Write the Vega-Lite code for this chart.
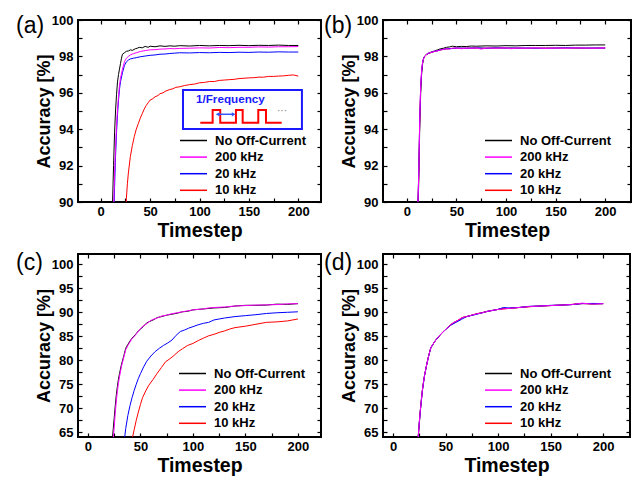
{
"$schema": "https://vega.github.io/schema/vega-lite/v6.json",
"padding": {"left": 15, "top": 13, "right": 5, "bottom": 5},
"config": {
  "font": "Liberation Sans",
  "view": {"stroke": "black", "strokeWidth": 2},
  "axis": {"grid": false, "domain": false, "tickColor": "black", "tickWidth": 1.2, "tickSize": -4, "labelColor": "black", "labelFontSize": 13, "labelFontWeight": "bold", "labelPadding": 9, "titleColor": "black", "titleFontWeight": "bold", "labelFlush": false, "labelOverlap": false},
  "axisX": {"titleFontSize": 19.5, "titlePadding": 3, "labelPadding": 7},
  "axisY": {"titleFontSize": 18, "titlePadding": -2},
  "title": {"fontSize": 23, "fontWeight": "normal", "anchor": "start", "frame": "group", "color": "black", "baseline": "alphabetic"},
  "legend": {"orient": "none", "title": null, "symbolType": "M-3,0H3", "symbolSize": 81, "symbolStrokeWidth": 1.5, "labelFontSize": 13, "labelFontWeight": "bold", "labelColor": "black", "labelOffset": 15, "rowPadding": 2.6}
},
"datasets": {
"curves": [
{"p":"a","s":"N","t":8,"y":86},{"p":"a","s":"N","t":10,"y":88},{"p":"a","s":"N","t":11,"y":89},{"p":"a","s":"N","t":12,"y":90},{"p":"a","s":"N","t":13,"y":92},{"p":"a","s":"N","t":14,"y":93.8},{"p":"a","s":"N","t":15,"y":95},{"p":"a","s":"N","t":16,"y":95.9},{"p":"a","s":"N","t":17,"y":96.6},{"p":"a","s":"N","t":18,"y":97},{"p":"a","s":"N","t":19,"y":97.3},{"p":"a","s":"N","t":20,"y":97.6},{"p":"a","s":"N","t":21,"y":97.9},{"p":"a","s":"N","t":22,"y":98.12},{"p":"a","s":"N","t":24,"y":98.2},{"p":"a","s":"N","t":26,"y":98.28},{"p":"a","s":"N","t":28,"y":98.3},{"p":"a","s":"N","t":30,"y":98.36},{"p":"a","s":"N","t":32,"y":98.33},{"p":"a","s":"N","t":35,"y":98.42},{"p":"a","s":"N","t":37,"y":98.45},{"p":"a","s":"N","t":39,"y":98.5},{"p":"a","s":"N","t":42,"y":98.47},{"p":"a","s":"N","t":45,"y":98.55},{"p":"a","s":"N","t":48,"y":98.5},{"p":"a","s":"N","t":50,"y":98.56},{"p":"a","s":"N","t":55,"y":98.53},{"p":"a","s":"N","t":60,"y":98.58},{"p":"a","s":"N","t":65,"y":98.55},{"p":"a","s":"N","t":70,"y":98.58},{"p":"a","s":"N","t":75,"y":98.56},{"p":"a","s":"N","t":80,"y":98.59},{"p":"a","s":"N","t":90,"y":98.57},{"p":"a","s":"N","t":100,"y":98.6},{"p":"a","s":"N","t":110,"y":98.58},{"p":"a","s":"N","t":120,"y":98.6},{"p":"a","s":"N","t":130,"y":98.59},{"p":"a","s":"N","t":140,"y":98.61},{"p":"a","s":"N","t":150,"y":98.59},{"p":"a","s":"N","t":160,"y":98.61},{"p":"a","s":"N","t":170,"y":98.6},{"p":"a","s":"N","t":180,"y":98.62},{"p":"a","s":"N","t":190,"y":98.6},{"p":"a","s":"N","t":200,"y":98.6},
{"p":"a","s":"10","t":22,"y":86},{"p":"a","s":"10","t":24,"y":88},{"p":"a","s":"10","t":26,"y":90.2},{"p":"a","s":"10","t":27,"y":91},{"p":"a","s":"10","t":28,"y":91.6},{"p":"a","s":"10","t":30,"y":92.5},{"p":"a","s":"10","t":32,"y":93.1},{"p":"a","s":"10","t":34,"y":93.6},{"p":"a","s":"10","t":36,"y":94},{"p":"a","s":"10","t":38,"y":94.3},{"p":"a","s":"10","t":40,"y":94.6},{"p":"a","s":"10","t":42,"y":94.85},{"p":"a","s":"10","t":44,"y":95.1},{"p":"a","s":"10","t":46,"y":95.3},{"p":"a","s":"10","t":48,"y":95.45},{"p":"a","s":"10","t":50,"y":95.6},{"p":"a","s":"10","t":52,"y":95.65},{"p":"a","s":"10","t":55,"y":95.78},{"p":"a","s":"10","t":58,"y":95.85},{"p":"a","s":"10","t":60,"y":95.95},{"p":"a","s":"10","t":63,"y":96},{"p":"a","s":"10","t":66,"y":96.1},{"p":"a","s":"10","t":70,"y":96.18},{"p":"a","s":"10","t":73,"y":96.22},{"p":"a","s":"10","t":76,"y":96.3},{"p":"a","s":"10","t":80,"y":96.33},{"p":"a","s":"10","t":85,"y":96.4},{"p":"a","s":"10","t":90,"y":96.45},{"p":"a","s":"10","t":95,"y":96.48},{"p":"a","s":"10","t":100,"y":96.55},{"p":"a","s":"10","t":105,"y":96.57},{"p":"a","s":"10","t":110,"y":96.62},{"p":"a","s":"10","t":115,"y":96.62},{"p":"a","s":"10","t":120,"y":96.68},{"p":"a","s":"10","t":125,"y":96.7},{"p":"a","s":"10","t":130,"y":96.72},{"p":"a","s":"10","t":135,"y":96.74},{"p":"a","s":"10","t":140,"y":96.78},{"p":"a","s":"10","t":145,"y":96.8},{"p":"a","s":"10","t":150,"y":96.82},{"p":"a","s":"10","t":155,"y":96.83},{"p":"a","s":"10","t":160,"y":96.86},{"p":"a","s":"10","t":165,"y":96.86},{"p":"a","s":"10","t":170,"y":96.9},{"p":"a","s":"10","t":175,"y":96.9},{"p":"a","s":"10","t":180,"y":96.92},{"p":"a","s":"10","t":185,"y":96.93},{"p":"a","s":"10","t":190,"y":96.96},{"p":"a","s":"10","t":195,"y":96.98},{"p":"a","s":"10","t":200,"y":96.92},
{"p":"a","s":"20","t":10,"y":86},{"p":"a","s":"20","t":13,"y":88.5},{"p":"a","s":"20","t":14,"y":90.8},{"p":"a","s":"20","t":15,"y":92.5},{"p":"a","s":"20","t":16,"y":93.8},{"p":"a","s":"20","t":17,"y":94.8},{"p":"a","s":"20","t":18,"y":95.6},{"p":"a","s":"20","t":19,"y":96.2},{"p":"a","s":"20","t":20,"y":96.6},{"p":"a","s":"20","t":22,"y":97.1},{"p":"a","s":"20","t":24,"y":97.5},{"p":"a","s":"20","t":26,"y":97.7},{"p":"a","s":"20","t":28,"y":97.8},{"p":"a","s":"20","t":30,"y":97.86},{"p":"a","s":"20","t":33,"y":97.9},{"p":"a","s":"20","t":36,"y":97.93},{"p":"a","s":"20","t":40,"y":97.98},{"p":"a","s":"20","t":45,"y":98.02},{"p":"a","s":"20","t":50,"y":98.06},{"p":"a","s":"20","t":55,"y":98.08},{"p":"a","s":"20","t":60,"y":98.12},{"p":"a","s":"20","t":65,"y":98.13},{"p":"a","s":"20","t":70,"y":98.16},{"p":"a","s":"20","t":75,"y":98.18},{"p":"a","s":"20","t":80,"y":98.2},{"p":"a","s":"20","t":90,"y":98.19},{"p":"a","s":"20","t":100,"y":98.21},{"p":"a","s":"20","t":110,"y":98.2},{"p":"a","s":"20","t":120,"y":98.22},{"p":"a","s":"20","t":130,"y":98.21},{"p":"a","s":"20","t":140,"y":98.23},{"p":"a","s":"20","t":150,"y":98.22},{"p":"a","s":"20","t":160,"y":98.24},{"p":"a","s":"20","t":170,"y":98.23},{"p":"a","s":"20","t":180,"y":98.25},{"p":"a","s":"20","t":190,"y":98.24},{"p":"a","s":"20","t":200,"y":98.24},
{"p":"a","s":"200","t":10,"y":86},{"p":"a","s":"200","t":13,"y":89.5},{"p":"a","s":"200","t":14,"y":91.5},{"p":"a","s":"200","t":15,"y":93},{"p":"a","s":"200","t":16,"y":94.2},{"p":"a","s":"200","t":17,"y":95.1},{"p":"a","s":"200","t":18,"y":95.8},{"p":"a","s":"200","t":19,"y":96.4},{"p":"a","s":"200","t":20,"y":96.8},{"p":"a","s":"200","t":22,"y":97.3},{"p":"a","s":"200","t":24,"y":97.7},{"p":"a","s":"200","t":26,"y":97.9},{"p":"a","s":"200","t":28,"y":98},{"p":"a","s":"200","t":30,"y":98.08},{"p":"a","s":"200","t":33,"y":98.15},{"p":"a","s":"200","t":36,"y":98.2},{"p":"a","s":"200","t":40,"y":98.27},{"p":"a","s":"200","t":45,"y":98.32},{"p":"a","s":"200","t":50,"y":98.36},{"p":"a","s":"200","t":55,"y":98.37},{"p":"a","s":"200","t":60,"y":98.4},{"p":"a","s":"200","t":65,"y":98.41},{"p":"a","s":"200","t":70,"y":98.43},{"p":"a","s":"200","t":75,"y":98.42},{"p":"a","s":"200","t":80,"y":98.44},{"p":"a","s":"200","t":90,"y":98.45},{"p":"a","s":"200","t":100,"y":98.47},{"p":"a","s":"200","t":110,"y":98.46},{"p":"a","s":"200","t":120,"y":98.49},{"p":"a","s":"200","t":130,"y":98.48},{"p":"a","s":"200","t":140,"y":98.5},{"p":"a","s":"200","t":150,"y":98.5},{"p":"a","s":"200","t":160,"y":98.52},{"p":"a","s":"200","t":170,"y":98.51},{"p":"a","s":"200","t":180,"y":98.53},{"p":"a","s":"200","t":190,"y":98.53},{"p":"a","s":"200","t":200,"y":98.54},

{"p":"b","s":"N","t":8,"y":86},{"p":"b","s":"N","t":10,"y":88},{"p":"b","s":"N","t":11,"y":89.3},{"p":"b","s":"N","t":12,"y":91},{"p":"b","s":"N","t":13,"y":94},{"p":"b","s":"N","t":14,"y":96},{"p":"b","s":"N","t":15,"y":97.1},{"p":"b","s":"N","t":16,"y":97.6},{"p":"b","s":"N","t":17,"y":97.9},{"p":"b","s":"N","t":18,"y":98.02},{"p":"b","s":"N","t":20,"y":98.12},{"p":"b","s":"N","t":22,"y":98.18},{"p":"b","s":"N","t":25,"y":98.25},{"p":"b","s":"N","t":28,"y":98.3},{"p":"b","s":"N","t":31,"y":98.36},{"p":"b","s":"N","t":34,"y":98.42},{"p":"b","s":"N","t":37,"y":98.45},{"p":"b","s":"N","t":40,"y":98.5},{"p":"b","s":"N","t":43,"y":98.52},{"p":"b","s":"N","t":46,"y":98.56},{"p":"b","s":"N","t":50,"y":98.53},{"p":"b","s":"N","t":55,"y":98.55},{"p":"b","s":"N","t":60,"y":98.54},{"p":"b","s":"N","t":65,"y":98.57},{"p":"b","s":"N","t":70,"y":98.56},{"p":"b","s":"N","t":80,"y":98.58},{"p":"b","s":"N","t":90,"y":98.57},{"p":"b","s":"N","t":100,"y":98.59},{"p":"b","s":"N","t":110,"y":98.58},{"p":"b","s":"N","t":120,"y":98.6},{"p":"b","s":"N","t":130,"y":98.6},{"p":"b","s":"N","t":140,"y":98.6},{"p":"b","s":"N","t":150,"y":98.61},{"p":"b","s":"N","t":160,"y":98.6},{"p":"b","s":"N","t":170,"y":98.62},{"p":"b","s":"N","t":180,"y":98.62},{"p":"b","s":"N","t":190,"y":98.63},{"p":"b","s":"N","t":200,"y":98.63},
{"p":"b","s":"10","t":8,"y":86},{"p":"b","s":"10","t":10,"y":88},{"p":"b","s":"10","t":11,"y":89.5},{"p":"b","s":"10","t":12,"y":91.4},{"p":"b","s":"10","t":13,"y":94.4},{"p":"b","s":"10","t":14,"y":96.3},{"p":"b","s":"10","t":15,"y":97.2},{"p":"b","s":"10","t":16,"y":97.7},{"p":"b","s":"10","t":17,"y":97.9},{"p":"b","s":"10","t":18,"y":98},{"p":"b","s":"10","t":20,"y":98.1},{"p":"b","s":"10","t":22,"y":98.17},{"p":"b","s":"10","t":25,"y":98.22},{"p":"b","s":"10","t":28,"y":98.27},{"p":"b","s":"10","t":31,"y":98.31},{"p":"b","s":"10","t":34,"y":98.35},{"p":"b","s":"10","t":37,"y":98.39},{"p":"b","s":"10","t":40,"y":98.41},{"p":"b","s":"10","t":45,"y":98.44},{"p":"b","s":"10","t":50,"y":98.45},{"p":"b","s":"10","t":60,"y":98.45},{"p":"b","s":"10","t":70,"y":98.46},{"p":"b","s":"10","t":80,"y":98.45},{"p":"b","s":"10","t":90,"y":98.46},{"p":"b","s":"10","t":100,"y":98.46},{"p":"b","s":"10","t":120,"y":98.45},{"p":"b","s":"10","t":140,"y":98.46},{"p":"b","s":"10","t":160,"y":98.46},{"p":"b","s":"10","t":180,"y":98.45},{"p":"b","s":"10","t":200,"y":98.46},
{"p":"b","s":"20","t":8,"y":86},{"p":"b","s":"20","t":10,"y":88},{"p":"b","s":"20","t":11,"y":89.5},{"p":"b","s":"20","t":12,"y":91.5},{"p":"b","s":"20","t":13,"y":94.5},{"p":"b","s":"20","t":14,"y":96.3},{"p":"b","s":"20","t":15,"y":97.2},{"p":"b","s":"20","t":16,"y":97.7},{"p":"b","s":"20","t":17,"y":97.9},{"p":"b","s":"20","t":18,"y":98},{"p":"b","s":"20","t":20,"y":98.11},{"p":"b","s":"20","t":22,"y":98.17},{"p":"b","s":"20","t":25,"y":98.23},{"p":"b","s":"20","t":28,"y":98.28},{"p":"b","s":"20","t":31,"y":98.31},{"p":"b","s":"20","t":34,"y":98.36},{"p":"b","s":"20","t":37,"y":98.39},{"p":"b","s":"20","t":40,"y":98.42},{"p":"b","s":"20","t":45,"y":98.43},{"p":"b","s":"20","t":50,"y":98.46},{"p":"b","s":"20","t":60,"y":98.45},{"p":"b","s":"20","t":70,"y":98.47},{"p":"b","s":"20","t":80,"y":98.45},{"p":"b","s":"20","t":90,"y":98.47},{"p":"b","s":"20","t":100,"y":98.46},{"p":"b","s":"20","t":120,"y":98.46},{"p":"b","s":"20","t":140,"y":98.45},{"p":"b","s":"20","t":160,"y":98.47},{"p":"b","s":"20","t":180,"y":98.46},{"p":"b","s":"20","t":200,"y":98.46},
{"p":"b","s":"200","t":8,"y":86},{"p":"b","s":"200","t":10,"y":88},{"p":"b","s":"200","t":11,"y":89.5},{"p":"b","s":"200","t":12,"y":91.5},{"p":"b","s":"200","t":13,"y":94.5},{"p":"b","s":"200","t":14,"y":96.4},{"p":"b","s":"200","t":15,"y":97.3},{"p":"b","s":"200","t":16,"y":97.7},{"p":"b","s":"200","t":17,"y":97.9},{"p":"b","s":"200","t":18,"y":98},{"p":"b","s":"200","t":20,"y":98.12},{"p":"b","s":"200","t":22,"y":98.18},{"p":"b","s":"200","t":25,"y":98.22},{"p":"b","s":"200","t":28,"y":98.28},{"p":"b","s":"200","t":31,"y":98.3},{"p":"b","s":"200","t":34,"y":98.36},{"p":"b","s":"200","t":37,"y":98.38},{"p":"b","s":"200","t":40,"y":98.42},{"p":"b","s":"200","t":43,"y":98.4},{"p":"b","s":"200","t":46,"y":98.45},{"p":"b","s":"200","t":50,"y":98.46},{"p":"b","s":"200","t":55,"y":98.42},{"p":"b","s":"200","t":60,"y":98.46},{"p":"b","s":"200","t":65,"y":98.44},{"p":"b","s":"200","t":70,"y":98.47},{"p":"b","s":"200","t":75,"y":98.4},{"p":"b","s":"200","t":80,"y":98.46},{"p":"b","s":"200","t":90,"y":98.45},{"p":"b","s":"200","t":100,"y":98.47},{"p":"b","s":"200","t":105,"y":98.42},{"p":"b","s":"200","t":110,"y":98.46},{"p":"b","s":"200","t":120,"y":98.45},{"p":"b","s":"200","t":130,"y":98.47},{"p":"b","s":"200","t":140,"y":98.44},{"p":"b","s":"200","t":150,"y":98.46},{"p":"b","s":"200","t":160,"y":98.45},{"p":"b","s":"200","t":170,"y":98.47},{"p":"b","s":"200","t":180,"y":98.46},{"p":"b","s":"200","t":190,"y":98.45},{"p":"b","s":"200","t":200,"y":98.47},

{"p":"c","s":"N","t":18,"y":55},{"p":"c","s":"N","t":20,"y":58},{"p":"c","s":"N","t":22,"y":61},{"p":"c","s":"N","t":23,"y":63},{"p":"c","s":"N","t":24,"y":65.5},{"p":"c","s":"N","t":25,"y":68},{"p":"c","s":"N","t":26,"y":70.5},{"p":"c","s":"N","t":27,"y":72.8},{"p":"c","s":"N","t":28,"y":74.5},{"p":"c","s":"N","t":29,"y":76},{"p":"c","s":"N","t":30,"y":77.2},{"p":"c","s":"N","t":32,"y":79.2},{"p":"c","s":"N","t":34,"y":80.8},{"p":"c","s":"N","t":36,"y":82.5},{"p":"c","s":"N","t":38,"y":83.3},{"p":"c","s":"N","t":40,"y":84},{"p":"c","s":"N","t":42,"y":84.6},{"p":"c","s":"N","t":45,"y":85.3},{"p":"c","s":"N","t":48,"y":86.1},{"p":"c","s":"N","t":50,"y":86.5},{"p":"c","s":"N","t":53,"y":87.1},{"p":"c","s":"N","t":56,"y":87.8},{"p":"c","s":"N","t":58,"y":88},{"p":"c","s":"N","t":60,"y":88.2},{"p":"c","s":"N","t":63,"y":88.5},{"p":"c","s":"N","t":66,"y":88.9},{"p":"c","s":"N","t":70,"y":89.1},{"p":"c","s":"N","t":75,"y":89.4},{"p":"c","s":"N","t":80,"y":89.6},{"p":"c","s":"N","t":85,"y":89.8},{"p":"c","s":"N","t":90,"y":90.1},{"p":"c","s":"N","t":95,"y":90.2},{"p":"c","s":"N","t":100,"y":90.5},{"p":"c","s":"N","t":105,"y":90.6},{"p":"c","s":"N","t":110,"y":90.7},{"p":"c","s":"N","t":115,"y":90.8},{"p":"c","s":"N","t":120,"y":90.9},{"p":"c","s":"N","t":130,"y":91},{"p":"c","s":"N","t":140,"y":91.3},{"p":"c","s":"N","t":150,"y":91.45},{"p":"c","s":"N","t":160,"y":91.45},{"p":"c","s":"N","t":170,"y":91.5},{"p":"c","s":"N","t":180,"y":91.7},{"p":"c","s":"N","t":190,"y":91.65},{"p":"c","s":"N","t":200,"y":91.8},
{"p":"c","s":"10","t":34,"y":52},{"p":"c","s":"10","t":36,"y":55},{"p":"c","s":"10","t":38,"y":58},{"p":"c","s":"10","t":40,"y":60.5},{"p":"c","s":"10","t":42,"y":63.5},{"p":"c","s":"10","t":44,"y":65.5},{"p":"c","s":"10","t":46,"y":67.5},{"p":"c","s":"10","t":48,"y":69.2},{"p":"c","s":"10","t":50,"y":70.8},{"p":"c","s":"10","t":52,"y":72.2},{"p":"c","s":"10","t":55,"y":73.6},{"p":"c","s":"10","t":58,"y":74.8},{"p":"c","s":"10","t":62,"y":76},{"p":"c","s":"10","t":66,"y":77.3},{"p":"c","s":"10","t":70,"y":78.5},{"p":"c","s":"10","t":74,"y":79.7},{"p":"c","s":"10","t":78,"y":80.3},{"p":"c","s":"10","t":82,"y":81},{"p":"c","s":"10","t":86,"y":81.8},{"p":"c","s":"10","t":90,"y":82.4},{"p":"c","s":"10","t":95,"y":83.1},{"p":"c","s":"10","t":100,"y":83.5},{"p":"c","s":"10","t":105,"y":84.1},{"p":"c","s":"10","t":110,"y":84.6},{"p":"c","s":"10","t":115,"y":85.1},{"p":"c","s":"10","t":120,"y":85.4},{"p":"c","s":"10","t":125,"y":85.8},{"p":"c","s":"10","t":130,"y":86.1},{"p":"c","s":"10","t":135,"y":86.5},{"p":"c","s":"10","t":140,"y":86.8},{"p":"c","s":"10","t":150,"y":87.1},{"p":"c","s":"10","t":160,"y":87.5},{"p":"c","s":"10","t":170,"y":87.9},{"p":"c","s":"10","t":180,"y":88},{"p":"c","s":"10","t":190,"y":88.2},{"p":"c","s":"10","t":200,"y":88.6},
{"p":"c","s":"20","t":28,"y":52},{"p":"c","s":"20","t":30,"y":55},{"p":"c","s":"20","t":33,"y":60},{"p":"c","s":"20","t":35,"y":64},{"p":"c","s":"20","t":36,"y":65.8},{"p":"c","s":"20","t":38,"y":68.5},{"p":"c","s":"20","t":40,"y":70.5},{"p":"c","s":"20","t":42,"y":72.2},{"p":"c","s":"20","t":44,"y":73.7},{"p":"c","s":"20","t":46,"y":75},{"p":"c","s":"20","t":48,"y":76.2},{"p":"c","s":"20","t":50,"y":77.2},{"p":"c","s":"20","t":53,"y":78.6},{"p":"c","s":"20","t":56,"y":79.8},{"p":"c","s":"20","t":60,"y":80.9},{"p":"c","s":"20","t":64,"y":81.8},{"p":"c","s":"20","t":68,"y":82.5},{"p":"c","s":"20","t":72,"y":83.1},{"p":"c","s":"20","t":76,"y":83.6},{"p":"c","s":"20","t":80,"y":84.2},{"p":"c","s":"20","t":84,"y":85.2},{"p":"c","s":"20","t":88,"y":86},{"p":"c","s":"20","t":92,"y":86.3},{"p":"c","s":"20","t":96,"y":86.7},{"p":"c","s":"20","t":100,"y":87},{"p":"c","s":"20","t":105,"y":87.4},{"p":"c","s":"20","t":110,"y":87.7},{"p":"c","s":"20","t":115,"y":87.9},{"p":"c","s":"20","t":120,"y":88.4},{"p":"c","s":"20","t":125,"y":88.6},{"p":"c","s":"20","t":130,"y":88.8},{"p":"c","s":"20","t":140,"y":89.1},{"p":"c","s":"20","t":150,"y":89.3},{"p":"c","s":"20","t":160,"y":89.5},{"p":"c","s":"20","t":170,"y":89.75},{"p":"c","s":"20","t":180,"y":89.9},{"p":"c","s":"20","t":190,"y":90},{"p":"c","s":"20","t":200,"y":90.1},
{"p":"c","s":"200","t":18,"y":53},{"p":"c","s":"200","t":20,"y":56},{"p":"c","s":"200","t":22,"y":59},{"p":"c","s":"200","t":24,"y":63.5},{"p":"c","s":"200","t":25,"y":66},{"p":"c","s":"200","t":26,"y":69},{"p":"c","s":"200","t":27,"y":71.5},{"p":"c","s":"200","t":28,"y":73.5},{"p":"c","s":"200","t":29,"y":75.2},{"p":"c","s":"200","t":30,"y":76.5},{"p":"c","s":"200","t":32,"y":78.8},{"p":"c","s":"200","t":34,"y":80.5},{"p":"c","s":"200","t":36,"y":82.2},{"p":"c","s":"200","t":38,"y":83.1},{"p":"c","s":"200","t":40,"y":83.8},{"p":"c","s":"200","t":42,"y":84.5},{"p":"c","s":"200","t":45,"y":85.2},{"p":"c","s":"200","t":48,"y":86},{"p":"c","s":"200","t":50,"y":86.6},{"p":"c","s":"200","t":53,"y":87.2},{"p":"c","s":"200","t":56,"y":87.6},{"p":"c","s":"200","t":58,"y":88},{"p":"c","s":"200","t":60,"y":88.3},{"p":"c","s":"200","t":63,"y":88.6},{"p":"c","s":"200","t":66,"y":88.8},{"p":"c","s":"200","t":70,"y":89.2},{"p":"c","s":"200","t":75,"y":89.4},{"p":"c","s":"200","t":80,"y":89.7},{"p":"c","s":"200","t":85,"y":89.9},{"p":"c","s":"200","t":90,"y":90.1},{"p":"c","s":"200","t":95,"y":90.3},{"p":"c","s":"200","t":100,"y":90.5},{"p":"c","s":"200","t":105,"y":90.6},{"p":"c","s":"200","t":110,"y":90.7},{"p":"c","s":"200","t":115,"y":90.9},{"p":"c","s":"200","t":120,"y":91},{"p":"c","s":"200","t":130,"y":91.1},{"p":"c","s":"200","t":140,"y":91.3},{"p":"c","s":"200","t":150,"y":91.4},{"p":"c","s":"200","t":160,"y":91.5},{"p":"c","s":"200","t":170,"y":91.55},{"p":"c","s":"200","t":180,"y":91.6},{"p":"c","s":"200","t":190,"y":91.75},{"p":"c","s":"200","t":200,"y":91.8},

{"p":"d","s":"N","t":18,"y":53},{"p":"d","s":"N","t":20,"y":56},{"p":"d","s":"N","t":22,"y":60},{"p":"d","s":"N","t":23,"y":62},{"p":"d","s":"N","t":24,"y":64},{"p":"d","s":"N","t":25,"y":67},{"p":"d","s":"N","t":26,"y":69.5},{"p":"d","s":"N","t":27,"y":71.8},{"p":"d","s":"N","t":28,"y":73.8},{"p":"d","s":"N","t":29,"y":75.4},{"p":"d","s":"N","t":30,"y":76.8},{"p":"d","s":"N","t":32,"y":79},{"p":"d","s":"N","t":34,"y":81},{"p":"d","s":"N","t":36,"y":82.6},{"p":"d","s":"N","t":38,"y":83.3},{"p":"d","s":"N","t":40,"y":84},{"p":"d","s":"N","t":42,"y":84.6},{"p":"d","s":"N","t":45,"y":85.3},{"p":"d","s":"N","t":48,"y":86},{"p":"d","s":"N","t":50,"y":86.4},{"p":"d","s":"N","t":53,"y":87},{"p":"d","s":"N","t":56,"y":87.6},{"p":"d","s":"N","t":58,"y":87.9},{"p":"d","s":"N","t":60,"y":88.1},{"p":"d","s":"N","t":63,"y":88.4},{"p":"d","s":"N","t":66,"y":88.9},{"p":"d","s":"N","t":70,"y":89.1},{"p":"d","s":"N","t":75,"y":89.4},{"p":"d","s":"N","t":80,"y":89.7},{"p":"d","s":"N","t":85,"y":89.9},{"p":"d","s":"N","t":90,"y":90.2},{"p":"d","s":"N","t":95,"y":90.4},{"p":"d","s":"N","t":100,"y":90.6},{"p":"d","s":"N","t":105,"y":90.8},{"p":"d","s":"N","t":110,"y":90.8},{"p":"d","s":"N","t":115,"y":90.9},{"p":"d","s":"N","t":120,"y":91},{"p":"d","s":"N","t":130,"y":91.2},{"p":"d","s":"N","t":140,"y":91.3},{"p":"d","s":"N","t":150,"y":91.4},{"p":"d","s":"N","t":160,"y":91.5},{"p":"d","s":"N","t":170,"y":91.6},{"p":"d","s":"N","t":180,"y":91.85},{"p":"d","s":"N","t":190,"y":91.7},{"p":"d","s":"N","t":200,"y":91.8},
{"p":"d","s":"10","t":18,"y":53},{"p":"d","s":"10","t":20,"y":56},{"p":"d","s":"10","t":22,"y":60},{"p":"d","s":"10","t":24,"y":64},{"p":"d","s":"10","t":26,"y":69.5},{"p":"d","s":"10","t":28,"y":73.8},{"p":"d","s":"10","t":30,"y":76.8},{"p":"d","s":"10","t":32,"y":79},{"p":"d","s":"10","t":34,"y":81},{"p":"d","s":"10","t":36,"y":82.6},{"p":"d","s":"10","t":40,"y":84},{"p":"d","s":"10","t":45,"y":85.3},{"p":"d","s":"10","t":50,"y":86.4},{"p":"d","s":"10","t":55,"y":87.4},{"p":"d","s":"10","t":60,"y":88.1},{"p":"d","s":"10","t":66,"y":88.9},{"p":"d","s":"10","t":70,"y":89.1},{"p":"d","s":"10","t":80,"y":89.7},{"p":"d","s":"10","t":90,"y":90.2},{"p":"d","s":"10","t":100,"y":90.6},{"p":"d","s":"10","t":110,"y":90.8},{"p":"d","s":"10","t":120,"y":91},{"p":"d","s":"10","t":140,"y":91.3},{"p":"d","s":"10","t":160,"y":91.5},{"p":"d","s":"10","t":180,"y":91.8},{"p":"d","s":"10","t":200,"y":91.8},
{"p":"d","s":"20","t":18,"y":53},{"p":"d","s":"20","t":20,"y":56},{"p":"d","s":"20","t":22,"y":60},{"p":"d","s":"20","t":24,"y":64},{"p":"d","s":"20","t":26,"y":69.4},{"p":"d","s":"20","t":28,"y":73.7},{"p":"d","s":"20","t":30,"y":76.8},{"p":"d","s":"20","t":32,"y":79},{"p":"d","s":"20","t":34,"y":80.9},{"p":"d","s":"20","t":36,"y":82.6},{"p":"d","s":"20","t":40,"y":84},{"p":"d","s":"20","t":45,"y":85.3},{"p":"d","s":"20","t":50,"y":86.4},{"p":"d","s":"20","t":55,"y":87.3},{"p":"d","s":"20","t":60,"y":87.9},{"p":"d","s":"20","t":65,"y":88.5},{"p":"d","s":"20","t":70,"y":89.1},{"p":"d","s":"20","t":80,"y":89.6},{"p":"d","s":"20","t":90,"y":90.2},{"p":"d","s":"20","t":100,"y":90.6},{"p":"d","s":"20","t":105,"y":91},{"p":"d","s":"20","t":110,"y":90.9},{"p":"d","s":"20","t":120,"y":91},{"p":"d","s":"20","t":130,"y":91.25},{"p":"d","s":"20","t":140,"y":91.3},{"p":"d","s":"20","t":150,"y":91.45},{"p":"d","s":"20","t":160,"y":91.5},{"p":"d","s":"20","t":170,"y":91.6},{"p":"d","s":"20","t":180,"y":91.8},{"p":"d","s":"20","t":190,"y":91.85},{"p":"d","s":"20","t":200,"y":91.8},
{"p":"d","s":"200","t":18,"y":53},{"p":"d","s":"200","t":20,"y":56},{"p":"d","s":"200","t":22,"y":60},{"p":"d","s":"200","t":23,"y":62},{"p":"d","s":"200","t":24,"y":64},{"p":"d","s":"200","t":25,"y":67},{"p":"d","s":"200","t":26,"y":69.5},{"p":"d","s":"200","t":27,"y":71.8},{"p":"d","s":"200","t":28,"y":73.8},{"p":"d","s":"200","t":29,"y":75.4},{"p":"d","s":"200","t":30,"y":76.8},{"p":"d","s":"200","t":32,"y":79},{"p":"d","s":"200","t":34,"y":81},{"p":"d","s":"200","t":36,"y":82.6},{"p":"d","s":"200","t":38,"y":83.3},{"p":"d","s":"200","t":40,"y":84},{"p":"d","s":"200","t":42,"y":84.6},{"p":"d","s":"200","t":45,"y":85.3},{"p":"d","s":"200","t":48,"y":86},{"p":"d","s":"200","t":50,"y":86.4},{"p":"d","s":"200","t":53,"y":87},{"p":"d","s":"200","t":56,"y":87.6},{"p":"d","s":"200","t":58,"y":87.9},{"p":"d","s":"200","t":60,"y":88.1},{"p":"d","s":"200","t":63,"y":88.5},{"p":"d","s":"200","t":66,"y":88.9},{"p":"d","s":"200","t":70,"y":89.1},{"p":"d","s":"200","t":75,"y":89.4},{"p":"d","s":"200","t":80,"y":89.7},{"p":"d","s":"200","t":85,"y":89.9},{"p":"d","s":"200","t":90,"y":90.2},{"p":"d","s":"200","t":95,"y":90.4},{"p":"d","s":"200","t":100,"y":90.6},{"p":"d","s":"200","t":105,"y":90.7},{"p":"d","s":"200","t":110,"y":90.8},{"p":"d","s":"200","t":115,"y":90.9},{"p":"d","s":"200","t":120,"y":91},{"p":"d","s":"200","t":130,"y":91.2},{"p":"d","s":"200","t":140,"y":91.3},{"p":"d","s":"200","t":150,"y":91.4},{"p":"d","s":"200","t":160,"y":91.5},{"p":"d","s":"200","t":170,"y":91.6},{"p":"d","s":"200","t":180,"y":91.9},{"p":"d","s":"200","t":190,"y":91.7},{"p":"d","s":"200","t":200,"y":91.8}
],
"box": [{"x1": 83.3, "x2": 203.7, "y1": 96.15, "y2": 94.01}],
"pulse": [{"i":0,"t":100.8,"y":94.36},{"i":1,"t":113.3,"y":94.36},{"i":2,"t":113.3,"y":95.05},{"i":3,"t":121,"y":95.05},{"i":4,"t":121,"y":94.36},{"i":5,"t":136.9,"y":94.36},{"i":6,"t":136.9,"y":95.05},{"i":7,"t":143.7,"y":95.05},{"i":8,"t":143.7,"y":94.36},{"i":9,"t":159.5,"y":94.36},{"i":10,"t":159.5,"y":95.05},{"i":11,"t":167.3,"y":95.05},{"i":12,"t":167.3,"y":94.36},{"i":13,"t":183.2,"y":94.36}],
"arrow": [{"t":118.4,"y":94.82,"end":"L"},{"t":134.6,"y":94.82,"end":"R"}],
"note": [{"t":96.4,"y":95.66,"txt":"1/Frequency"}],
"dots": [{"t":183.5,"y":95.02,"txt":"···"}]
},
"data": {"name": "curves"},
"columns": 2,
"spacing": {"row": 52, "column": 62},
"bounds": "flush",
"resolve": {"scale": {"color": "independent"}, "legend": {"color": "independent"}},
"concat": [
{
"width": 243, "height": 182,
"title": {"text": "(a)", "dx": -62, "offset": -24},
"layer": [
{"transform": [{"filter": "datum.p === 'a'"}],
 "mark": {"type": "line", "strokeWidth": 1, "clip": true},
 "encoding": {
  "x": {"field": "t", "type": "quantitative", "scale": {"domain": [-23, 223], "nice": false, "zero": false}, "axis": {"orient": "bottom", "values": [0,25,50,75,100,125,150,175,200], "labelExpr": "datum.value % 50 === 0 ? datum.label : ''", "title": "Timestep"}},
  "y": {"field": "y", "type": "quantitative", "scale": {"domain": [90, 100], "nice": false, "zero": false}, "axis": {"orient": "left", "values": [90,91,92,93,94,95,96,97,98,99,100], "labelExpr": "datum.value % 2 === 0 ? datum.label : ''", "title": "Accuracy [%]"}},
  "color": {"field": "s", "type": "nominal", "scale": {"domain": ["N","200","20","10"], "range": ["#000000","#ff00ff","#0000ff","#ff0000"]}, "legend": {"legendX": 109, "legendY": 114, "labelExpr": "datum.label === 'N' ? 'No Off-Current' : datum.label + ' kHz'"}}
 }},
{"transform": [{"filter": "datum.p === 'a'"}],
 "mark": {"type": "line", "strokeOpacity": 0},
 "encoding": {
  "x": {"field": "t", "type": "quantitative", "axis": {"orient": "top", "values": [0,25,50,75,100,125,150,175,200], "labels": false, "title": null}},
  "y": {"field": "y", "type": "quantitative", "axis": {"orient": "right", "values": [90,91,92,93,94,95,96,97,98,99,100], "labels": false, "title": null}}
 }},
{"data": {"name": "box"},
 "mark": {"type": "rect", "fill": "white", "stroke": "#1a1aff", "strokeWidth": 2},
 "encoding": {"x": {"field": "x1", "type": "quantitative", "axis": null}, "x2": {"field": "x2"}, "y": {"field": "y1", "type": "quantitative", "axis": null}, "y2": {"field": "y2"}}},
{"data": {"name": "pulse"},
 "mark": {"type": "line", "color": "#ff0000", "strokeWidth": 2},
 "encoding": {"x": {"field": "t", "type": "quantitative", "axis": null}, "y": {"field": "y", "type": "quantitative", "axis": null}, "order": {"field": "i"}}},
{"data": {"name": "arrow"},
 "mark": {"type": "line", "color": "#3355ff", "strokeWidth": 1.5},
 "encoding": {"x": {"field": "t", "type": "quantitative", "axis": null}, "y": {"field": "y", "type": "quantitative", "axis": null}}},
{"data": {"name": "arrow"},
 "mark": {"type": "point", "filled": true, "color": "#3355ff", "size": 18, "opacity": 1},
 "encoding": {"x": {"field": "t", "type": "quantitative", "axis": null}, "y": {"field": "y", "type": "quantitative", "axis": null}, "shape": {"condition": {"test": "datum.end === 'L'", "value": "triangle-left"}, "value": "triangle-right"}}},
{"data": {"name": "note"},
 "mark": {"type": "text", "align": "left", "baseline": "middle", "fontSize": 11.7, "fontWeight": "bold", "color": "#1a1aff"},
 "encoding": {"x": {"field": "t", "type": "quantitative", "axis": null}, "y": {"field": "y", "type": "quantitative", "axis": null}, "text": {"field": "txt"}}},
{"data": {"name": "dots"},
 "mark": {"type": "text", "align": "center", "baseline": "middle", "fontSize": 10, "color": "#777777"},
 "encoding": {"x": {"field": "t", "type": "quantitative", "axis": null}, "y": {"field": "y", "type": "quantitative", "axis": null}, "text": {"field": "txt"}}}
]
},
{
"width": 248, "height": 182,
"title": {"text": "(b)", "dx": -59, "offset": -24},
"layer": [
{"transform": [{"filter": "datum.p === 'b'"}],
 "mark": {"type": "line", "strokeWidth": 1, "clip": true},
 "encoding": {
  "x": {"field": "t", "type": "quantitative", "scale": {"domain": [-24, 226], "nice": false, "zero": false}, "axis": {"orient": "bottom", "values": [0,25,50,75,100,125,150,175,200], "labelExpr": "datum.value % 50 === 0 ? datum.label : ''", "title": "Timestep"}},
  "y": {"field": "y", "type": "quantitative", "scale": {"domain": [90, 100], "nice": false, "zero": false}, "axis": {"orient": "left", "values": [90,91,92,93,94,95,96,97,98,99,100], "labelExpr": "datum.value % 2 === 0 ? datum.label : ''", "title": "Accuracy [%]"}},
  "color": {"field": "s", "type": "nominal", "scale": {"domain": ["N","200","20","10"], "range": ["#000000","#ff00ff","#0000ff","#ff0000"]}, "legend": {"legendX": 109, "legendY": 114, "labelExpr": "datum.label === 'N' ? 'No Off-Current' : datum.label + ' kHz'"}}
 }},
{"transform": [{"filter": "datum.p === 'b'"}],
 "mark": {"type": "line", "strokeOpacity": 0},
 "encoding": {
  "x": {"field": "t", "type": "quantitative", "axis": {"orient": "top", "values": [0,25,50,75,100,125,150,175,200], "labels": false, "title": null}},
  "y": {"field": "y", "type": "quantitative", "axis": {"orient": "right", "values": [90,91,92,93,94,95,96,97,98,99,100], "labels": false, "title": null}}
 }}
]
},
{
"width": 243, "height": 183,
"title": {"text": "(c)", "dx": -62, "offset": -22},
"layer": [
{"transform": [{"filter": "datum.p === 'c'"}],
 "mark": {"type": "line", "strokeWidth": 1, "clip": true},
 "encoding": {
  "x": {"field": "t", "type": "quantitative", "scale": {"domain": [-9.5, 222], "nice": false, "zero": false}, "axis": {"orient": "bottom", "values": [0,25,50,75,100,125,150,175,200], "labelExpr": "datum.value % 50 === 0 ? datum.label : ''", "title": "Timestep"}},
  "y": {"field": "y", "type": "quantitative", "scale": {"domain": [64, 102.15], "nice": false, "zero": false}, "axis": {"orient": "left", "values": [65,67.5,70,72.5,75,77.5,80,82.5,85,87.5,90,92.5,95,97.5,100], "labelExpr": "datum.value % 5 === 0 ? datum.label : ''", "title": "Accuracy [%]"}},
  "color": {"field": "s", "type": "nominal", "scale": {"domain": ["N","200","20","10"], "range": ["#000000","#ff00ff","#0000ff","#ff0000"]}, "legend": {"legendX": 108, "legendY": 113, "labelExpr": "datum.label === 'N' ? 'No Off-Current' : datum.label + ' kHz'"}}
 }},
{"transform": [{"filter": "datum.p === 'c'"}],
 "mark": {"type": "line", "strokeOpacity": 0},
 "encoding": {
  "x": {"field": "t", "type": "quantitative", "axis": {"orient": "top", "values": [0,25,50,75,100,125,150,175,200], "labels": false, "title": null}},
  "y": {"field": "y", "type": "quantitative", "axis": {"orient": "right", "values": [65,67.5,70,72.5,75,77.5,80,82.5,85,87.5,90,92.5,95,97.5,100], "labels": false, "title": null}}
 }}
]
},
{
"width": 247, "height": 183,
"title": {"text": "(d)", "dx": -59, "offset": -22},
"layer": [
{"transform": [{"filter": "datum.p === 'd'"}],
 "mark": {"type": "line", "strokeWidth": 1, "clip": true},
 "encoding": {
  "x": {"field": "t", "type": "quantitative", "scale": {"domain": [-9.5, 225.5], "nice": false, "zero": false}, "axis": {"orient": "bottom", "values": [0,25,50,75,100,125,150,175,200], "labelExpr": "datum.value % 50 === 0 ? datum.label : ''", "title": "Timestep"}},
  "y": {"field": "y", "type": "quantitative", "scale": {"domain": [64, 102.15], "nice": false, "zero": false}, "axis": {"orient": "left", "values": [65,67.5,70,72.5,75,77.5,80,82.5,85,87.5,90,92.5,95,97.5,100], "labelExpr": "datum.value % 5 === 0 ? datum.label : ''", "title": "Accuracy [%]"}},
  "color": {"field": "s", "type": "nominal", "scale": {"domain": ["N","200","20","10"], "range": ["#000000","#ff00ff","#0000ff","#ff0000"]}, "legend": {"legendX": 109, "legendY": 113, "labelExpr": "datum.label === 'N' ? 'No Off-Current' : datum.label + ' kHz'"}}
 }},
{"transform": [{"filter": "datum.p === 'd'"}],
 "mark": {"type": "line", "strokeOpacity": 0},
 "encoding": {
  "x": {"field": "t", "type": "quantitative", "axis": {"orient": "top", "values": [0,25,50,75,100,125,150,175,200], "labels": false, "title": null}},
  "y": {"field": "y", "type": "quantitative", "axis": {"orient": "right", "values": [65,67.5,70,72.5,75,77.5,80,82.5,85,87.5,90,92.5,95,97.5,100], "labels": false, "title": null}}
 }}
]
}
]
}
